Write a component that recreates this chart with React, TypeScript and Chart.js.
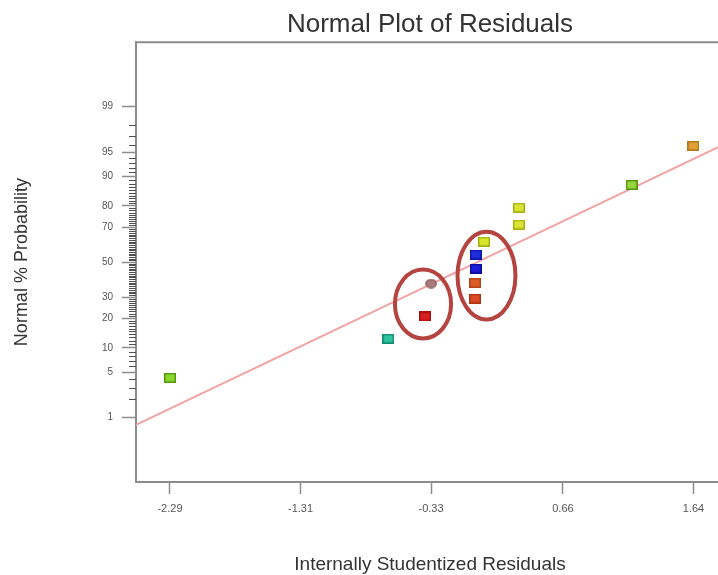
import { useEffect, useRef } from "react";
import { Chart, registerables } from "chart.js";

Chart.register(...registerables);

// Residuals (x) and their normal probability plotting positions in percent (y)
const residuals = [-2.29, -0.651, -0.376, 0.0, -0.33, 0.0, 0.005, 0.005, 0.067, 0.33, 0.33, 1.176, 1.639];
const normalPct = [4.17, 12.6, 20.8, 29.3, 37.4, 37.9, 46.1, 54.5, 62.0, 71.3, 79.2, 87.6, 95.9];

// Reference line end points
const fitX = [-2.545, 1.869];
const fitPct = [0.745, 96.1];

// Axis ticks
const xTickValues = [-2.29, -1.31, -0.33, 0.66, 1.64];
const xTickLabels = ["-2.29", "-1.31", "-0.33", "0.66", "1.64"];
const yTickPct = [1, 5, 10, 20, 30, 50, 70, 80, 90, 95, 99];
const yTickLabels = ["1", "5", "10", "20", "30", "50", "70", "80", "90", "95", "99"];

// Marker styles, one per point
const markerFill = ["#8fd62a", "#2fc4a0", "#d81e1e", "#dc4a22", "#a87c7c", "#dc5c2a", "#1c1cd4", "#1f2edc", "#d6e62a", "#dae432", "#dae432", "#96d63a", "#e2a038"];
const markerEdge = ["#4f9a12", "#128c74", "#a80c0c", "#b03414", "#8a6060", "#b8441a", "#0a0aa0", "#0c14a8", "#a6b010", "#a8b214", "#a8b214", "#5a9414", "#b07818"];
const markerShape = ["rect", "rect", "rect", "rect", "circle", "rect", "rect", "rect", "rect", "rect", "rect", "rect", "rect"];

// Highlight rings drawn around groups of points
const highlightGroups = [
  { members: [2, 4], padX: 25, padY: 18, dx: -5, dy: 4 },
  { members: [3, 5, 6, 7, 8], padX: 24.5, padY: 15.5, dx: 7, dy: 5.5 },
];

const X_MIN = -2.545;
const X_MAX = 1.869;
const Z_LIM = 3.29;
const FONT = "'Liberation Sans', Arial, sans-serif";

// Inverse standard normal CDF (Acklam's rational approximation)
function probit(p: number): number {
  const a = [-3.969683028665376e1, 2.209460984245205e2, -2.759285104469687e2, 1.38357751867269e2, -3.066479806614716e1, 2.506628277459239];
  const b = [-5.447609879822406e1, 1.615858368580409e2, -1.556989798598866e2, 6.680131188771972e1, -1.328068155288572e1];
  const c = [-7.784894002430293e-3, -3.223964580411365e-1, -2.400758277161838, -2.549732539343734, 4.374664141464968, 2.938163982698783];
  const d = [7.784695709041462e-3, 3.224671290700398e-1, 2.445134137142996, 3.754408661907416];
  const pl = 0.02425;
  if (p < pl) {
    const q = Math.sqrt(-2 * Math.log(p));
    return (((((c[0] * q + c[1]) * q + c[2]) * q + c[3]) * q + c[4]) * q + c[5]) / ((((d[0] * q + d[1]) * q + d[2]) * q + d[3]) * q + 1);
  }
  if (p <= 1 - pl) {
    const q = p - 0.5;
    const r = q * q;
    return ((((((a[0] * r + a[1]) * r + a[2]) * r + a[3]) * r + a[4]) * r + a[5]) * q) / (((((b[0] * r + b[1]) * r + b[2]) * r + b[3]) * r + b[4]) * r + 1);
  }
  const q = Math.sqrt(-2 * Math.log(1 - p));
  return -(((((c[0] * q + c[1]) * q + c[2]) * q + c[3]) * q + c[4]) * q + c[5]) / ((((d[0] * q + d[1]) * q + d[2]) * q + d[3]) * q + 1);
}

const pctToZ = (pct: number) => probit(pct / 100);

function makeMarker(fill: string, edge: string, shape: string): HTMLCanvasElement {
  const cv = document.createElement("canvas");
  cv.width = 12;
  cv.height = 10;
  const g = cv.getContext("2d")!;
  if (shape === "circle") {
    g.beginPath();
    g.ellipse(6, 5, 5.2, 4.2, 0, 0, Math.PI * 2);
    g.fillStyle = fill;
    g.fill();
    g.lineWidth = 1.3;
    g.strokeStyle = edge;
    g.stroke();
  } else {
    g.fillStyle = fill;
    g.fillRect(0, 0, 12, 10);
    g.lineWidth = 1.5;
    g.strokeStyle = edge;
    g.strokeRect(0.75, 0.75, 10.5, 8.5);
  }
  return cv;
}

// Keep the chart title centred over the plot frame rather than the whole canvas
const centreTitle = {
  id: "centreTitle",
  afterLayout(chart: any) {
    const t = chart.titleBlock;
    if (!t) return;
    t.left = chart.chartArea.left;
    t.right = chart.chartArea.right;
    t.width = t.right - t.left;
  },
};

const frameAndTicks = {
  id: "frameAndTicks",
  afterDraw(chart: any) {
    const { ctx, chartArea } = chart;
    const y = chart.scales.y;
    ctx.save();
    // top edge of the plot frame
    ctx.strokeStyle = "#8c8c8c";
    ctx.lineWidth = 2;
    ctx.beginPath();
    ctx.moveTo(chartArea.left - 1, chartArea.top);
    ctx.lineTo(chartArea.right, chartArea.top);
    ctx.stroke();
    // minor probability ticks at every whole percent
    ctx.strokeStyle = "#505050";
    ctx.lineWidth = 1;
    for (let p = 1; p <= 99; p++) {
      if (yTickPct.includes(p)) continue;
      const py = Math.round(y.getPixelForValue(pctToZ(p))) + 0.5;
      ctx.beginPath();
      ctx.moveTo(chartArea.left - 7, py);
      ctx.lineTo(chartArea.left, py);
      ctx.stroke();
    }
    ctx.restore();
  },
};

const highlightRings = {
  id: "highlightRings",
  afterDatasetsDraw(chart: any) {
    const { ctx } = chart;
    const xs = chart.scales.x;
    const ys = chart.scales.y;
    ctx.save();
    ctx.strokeStyle = "#b5433f";
    ctx.lineWidth = 4;
    for (const grp of highlightGroups) {
      const px = grp.members.map((i) => xs.getPixelForValue(residuals[i]));
      const py = grp.members.map((i) => ys.getPixelForValue(pctToZ(normalPct[i])));
      const x0 = Math.min(...px), x1 = Math.max(...px);
      const y0 = Math.min(...py), y1 = Math.max(...py);
      const cx = (x0 + x1) / 2 + grp.dx;
      const cy = (y0 + y1) / 2 + grp.dy;
      const rx = (x1 - x0) / 2 + grp.padX;
      const ry = (y1 - y0) / 2 + grp.padY;
      ctx.beginPath();
      ctx.ellipse(cx, cy, rx, ry, 0, 0, Math.PI * 2);
      ctx.stroke();
    }
    ctx.restore();
  },
};

export default function App() {
  const canvasRef = useRef<HTMLCanvasElement | null>(null);

  useEffect(() => {
    if (!canvasRef.current) return;
    const markers = residuals.map((_, i) => makeMarker(markerFill[i], markerEdge[i], markerShape[i]));

    const chart = new Chart(canvasRef.current, {
      type: "scatter",
      data: {
        datasets: [
          {
            label: "Residuals",
            data: residuals.map((x, i) => ({ x, y: pctToZ(normalPct[i]) })),
            pointStyle: markers as any,
            pointRadius: 6,
            pointHoverRadius: 6,
            order: 0,
          },
          {
            type: "line",
            label: "Normal line",
            data: fitX.map((x, i) => ({ x, y: pctToZ(fitPct[i]) })),
            borderColor: "#f2a3a3",
            borderWidth: 2,
            pointRadius: 0,
            fill: false,
            order: 1,
          } as any,
        ],
      },
      options: {
        animation: false,
        responsive: true,
        maintainAspectRatio: false,
        layout: { padding: { left: 0, top: 0, bottom: 0, right: 136 } },
        plugins: {
          legend: { display: false },
          tooltip: { enabled: false },
          title: {
            display: true,
            text: "Normal Plot of Residuals",
            color: "#333333",
            font: { family: FONT, size: 26, weight: "normal", lineHeight: 1.2 },
            padding: { top: 9, bottom: 2 },
          },
        },
        scales: {
          x: {
            type: "linear",
            min: X_MIN,
            max: X_MAX,
            afterBuildTicks: (scale: any) => {
              scale.ticks = xTickValues.map((v) => ({ value: v }));
            },
            afterFit: (scale: any) => {
              scale.height = 93;
              scale.paddingRight = 0;
              scale.paddingLeft = 0;
            },
            ticks: {
              callback: (_v: any, i: number) => xTickLabels[i],
              color: "#555555",
              font: { family: FONT, size: 11 },
              padding: 8,
              maxRotation: 0,
              autoSkip: false,
            },
            grid: {
              drawOnChartArea: false,
              drawTicks: true,
              tickLength: 12,
              tickColor: "#8c8c8c",
              tickWidth: 1.5,
            },
            border: { display: true, color: "#8c8c8c", width: 2 },
            title: {
              display: true,
              text: "Internally Studentized Residuals",
              color: "#333333",
              font: { family: FONT, size: 19, lineHeight: 1 },
              padding: { top: 0, bottom: 1 },
            },
          },
          y: {
            type: "linear",
            min: -Z_LIM,
            max: Z_LIM,
            afterBuildTicks: (scale: any) => {
              scale.ticks = yTickPct.map((p) => ({ value: pctToZ(p) }));
            },
            afterFit: (scale: any) => {
              scale.width = 136;
            },
            ticks: {
              callback: (_v: any, i: number) => yTickLabels[i],
              color: "#555555",
              font: { family: FONT, size: 10 },
              padding: 9,
              autoSkip: false,
            },
            grid: {
              drawOnChartArea: false,
              drawTicks: true,
              tickLength: 14,
              tickColor: "#8c8c8c",
              tickWidth: 1.5,
            },
            border: { display: true, color: "#8c8c8c", width: 2 },
            title: {
              display: true,
              text: "Normal % Probability",
              color: "#333333",
              font: { family: FONT, size: 18, lineHeight: 1 },
              padding: { top: 13, bottom: 0 },
            },
          },
        },
      },
      plugins: [centreTitle, frameAndTicks, highlightRings],
    });

    return () => chart.destroy();
  }, []);

  return (
    <div style={{ position: "fixed", left: 0, top: 0, width: 718, height: 575, overflow: "hidden", background: "#ffffff" }}>
      <div style={{ position: "relative", width: 860, height: 575 }}>
        <canvas ref={canvasRef} />
      </div>
    </div>
  );
}
